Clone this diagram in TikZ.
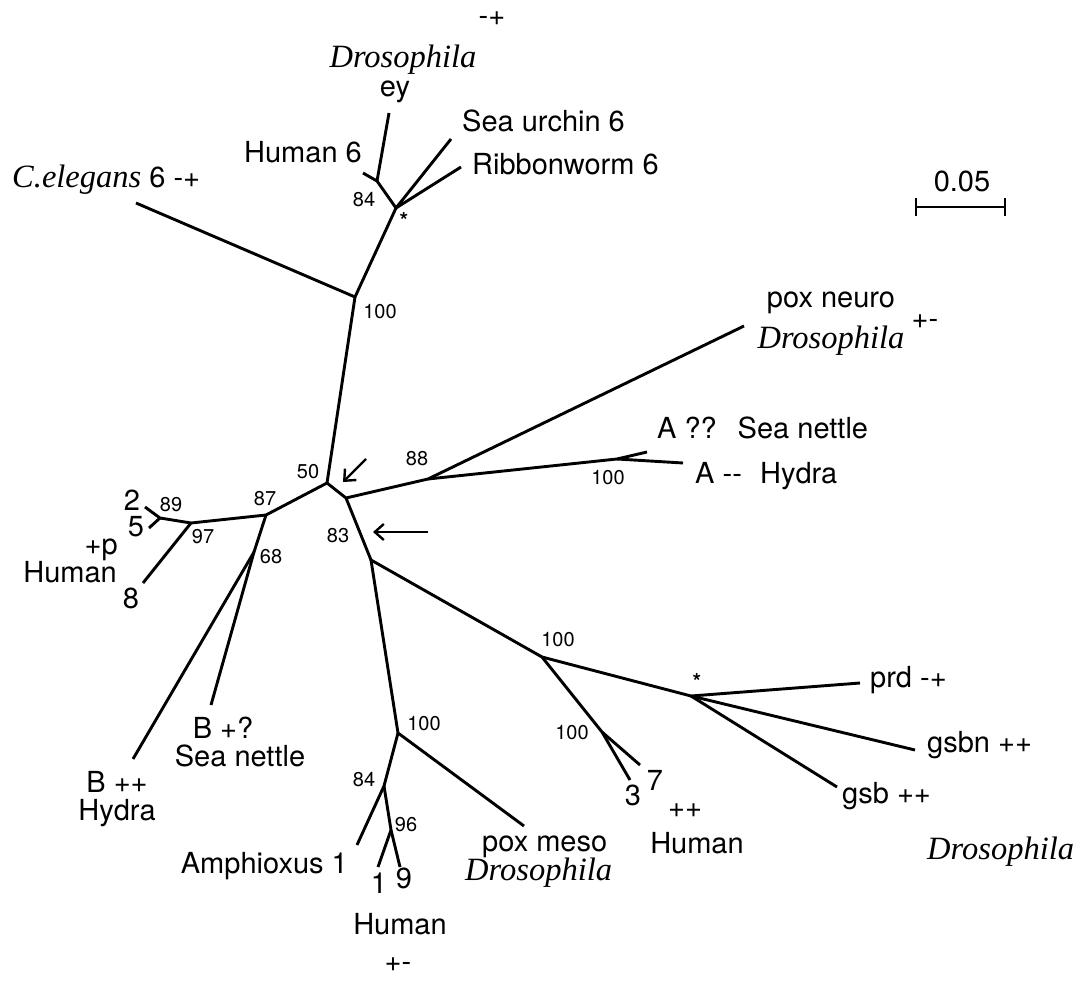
\documentclass[tikz,border=0pt]{standalone}
\usepackage{fontspec}
\newfontfamily\labfont{TeX Gyre Heros}
\newfontfamily\itfont{Liberation Serif}
\usetikzlibrary{arrows.meta}
\begin{document}
\begin{tikzpicture}[x=1pt,y=-1pt,
  br/.style={line width=2.9pt, line join=round},
  lab/.style={font=\labfont\fontsize{29}{25}\selectfont, inner sep=0pt},
  num/.style={font=\labfont\fontsize{20}{20}\selectfont, inner sep=0pt},
  starm/.style={font=\labfont\bfseries\fontsize{22}{22}\selectfont, inner sep=0pt},
  ital/.style={font=\itfont\itshape\fontsize{32.5}{30}\selectfont, inner sep=0pt},
  arr/.style={line width=2.4pt, -{Straight Barb[length=9pt,width=16pt,line width=2.4pt]}}]
\useasboundingbox (0,0) rectangle (1086,984);
% ---- junctions and tips
\coordinate (N50) at (327,483);
\coordinate (N100u) at (355,297);
\coordinate (Cel) at (136,203);
\coordinate (Nstar) at (396,208);
\coordinate (N84t) at (377,181);
\coordinate (H6) at (363,173);
\coordinate (ey) at (389,113);
\coordinate (SU) at (451,139);
\coordinate (RW) at (461,167);
\coordinate (N87) at (266,515);
\coordinate (N97) at (191,523);
\coordinate (N89) at (160,518);
\coordinate (t2) at (145,507);
\coordinate (t5) at (149,528);
\coordinate (t8) at (143,583);
\coordinate (N68) at (254,552);
\coordinate (BSN) at (211,705);
\coordinate (BHy) at (133,759);
\coordinate (N83a) at (346,498);
\coordinate (N88) at (428,479);
\coordinate (PN) at (744,326);
\coordinate (NA) at (617,459);
\coordinate (ASN) at (647,452);
\coordinate (AHy) at (683,463);
\coordinate (N83b) at (371,560);
\coordinate (NR) at (542,657);
\coordinate (N37) at (602,732);
\coordinate (t3) at (630,780);
\coordinate (t7) at (640,765);
\coordinate (Nst2) at (691,696);
\coordinate (prd) at (860,683);
\coordinate (gsbn) at (915,750);
\coordinate (gsb) at (837,787);
\coordinate (NB) at (398,733);
\coordinate (PM) at (524,826);
\coordinate (N84b) at (384,786);
\coordinate (Am) at (357,845);
\coordinate (N96) at (391,830);
\coordinate (h1) at (378,867);
\coordinate (h9) at (400,867);
% ---- branches
\draw[br] (N50) -- (N100u);
\draw[br] (N100u) -- (Cel);
\draw[br] (N100u) -- (Nstar);
\draw[br] (Nstar) -- (N84t) -- (H6);
\draw[br] (N84t) -- (ey);
\draw[br] (Nstar) -- (SU);
\draw[br] (Nstar) -- (RW);
\draw[br] (N50) -- (N87) -- (N97) -- (N89) -- (t2);
\draw[br] (N89) -- (t5);
\draw[br] (N97) -- (t8);
\draw[br] (N87) -- (N68) -- (BSN);
\draw[br] (N68) -- (BHy);
\draw[br] (N50) -- (N83a) -- (N88) -- (PN);
\draw[br] (N88) -- (NA) -- (ASN);
\draw[br] (NA) -- (AHy);
\draw[br] (N83a) -- (N83b) -- (NR) -- (N37) -- (t3);
\draw[br] (N37) -- (t7);
\draw[br] (NR) -- (Nst2) -- (prd);
\draw[br] (Nst2) -- (gsbn);
\draw[br] (Nst2) -- (gsb);
\draw[br] (N83b) -- (NB) -- (PM);
\draw[br] (NB) -- (N84b) -- (Am);
\draw[br] (N84b) -- (N96) -- (h1);
\draw[br] (N96) -- (h9);
% ---- arrows
\coordinate (a1s) at (366,459);
\coordinate (a1e) at (343,482);
\coordinate (a2s) at (428,532);
\coordinate (a2e) at (373,532);
\draw[arr] (a1s) -- (a1e);
\draw[arr] (a2s) -- (a2e);
% ---- scale bar
\coordinate (sbL) at (916,207);
\coordinate (sbR) at (1005,207);
\draw[line width=2.4pt] (sbL) -- (sbR);
\draw[line width=2.4pt] ([yshift=-9pt]sbL) -- ([yshift=9pt]sbL);
\draw[line width=2.4pt] ([yshift=-9pt]sbR) -- ([yshift=9pt]sbR);
\node[lab, anchor=base] (scale) at (962,192) {0.05};
% ---- labels top
\node[lab, anchor=center] (topsign) at (492,19) {-+};
\node[ital, anchor=base] (droey) at (403,68) {Drosophila};
\node[lab, anchor=base] (eylab) at (395,97) {ey};
\node[lab, anchor=base] (h6lab) at (303,163) {Human 6};
\node[lab, anchor=base west] (sulab) at (462,132) {Sea urchin 6};
\node[lab, anchor=base west] (rwlab) at (472,175) {Ribbonworm 6};
\node[lab, anchor=base west] (cellab) at (12,188) {{\itfont\itshape\fontsize{32.5}{30}\selectfont C.elegans} 6 -+};
\node[num, anchor=base] (b84t) at (364,207) {84};
\node[starm, anchor=center] (st1) at (404,220) {*};
\node[num, anchor=base] (b100u) at (380,318) {100};
% ---- right upper
\node[lab, anchor=base] (pnlab) at (831,307) {pox neuro};
\node[ital, anchor=base] (pndro) at (831,348) {Drosophila};
\node[lab, anchor=center] (pnsign) at (925,322) {+-};
\node[num, anchor=center] (b88) at (417,459) {88};
\node[num, anchor=center] (b50) at (308,472) {50};
\node[num, anchor=center] (b83) at (338,536) {83};
\node[lab, anchor=base west] (asn) at (657,438) {A ??\hspace{0.35em} Sea nettle};
\node[lab, anchor=base west] (ahy) at (695,483) {A {-}{-}\hspace{0.35em} Hydra};
\node[num, anchor=center] (b100a) at (608,478) {100};
% ---- left cluster
\node[lab, anchor=center] (l2) at (132,500) {2};
\node[lab, anchor=center] (l5) at (136,527) {5};
\node[lab, anchor=center] (l8) at (131,598) {8};
\node[num, anchor=center] (b89) at (171,505) {89};
\node[num, anchor=center] (b97) at (203,537) {97};
\node[num, anchor=center] (b87) at (265,499) {87};
\node[num, anchor=center] (b68) at (271,557) {68};
\node[lab, anchor=base east] (plab) at (118,554) {+p};
\node[lab, anchor=base east] (hlab) at (117,582) {Human};
\node[lab, anchor=base] (bpp) at (117,792) {B ++};
\node[lab, anchor=base] (bhy) at (117,820) {Hydra};
\node[lab, anchor=base] (bpq) at (223,738) {B +?};
\node[lab, anchor=base] (bsn) at (240,766) {Sea nettle};
% ---- bottom cluster
\node[num, anchor=center] (b100b) at (424,724) {100};
\node[num, anchor=center] (b84b) at (364,780) {84};
\node[num, anchor=center] (b96) at (406,825) {96};
\node[lab, anchor=base east] (amlab) at (348,873) {Amphioxus 1};
\node[lab, anchor=base] (l1) at (379,893) {1};
\node[lab, anchor=base] (l9) at (404,888) {9};
\node[lab, anchor=base] (hbot) at (400,934) {Human};
\node[lab, anchor=center] (botsign) at (398,965) {+-};
\node[lab, anchor=base west] (pmlab) at (482,851) {pox meso};
\node[ital, anchor=base west] (pmdro) at (465,880) {Drosophila};
% ---- right lower cluster
\node[num, anchor=center] (b100r) at (558,640) {100};
\node[num, anchor=center] (b100c) at (572,733) {100};
\node[lab, anchor=base] (l3) at (633,805) {3};
\node[lab, anchor=base] (l7) at (655,790) {7};
\node[lab, anchor=center] (rpp) at (685,811) {++};
\node[lab, anchor=base] (hright) at (697,853) {Human};
\node[starm, anchor=center] (st2) at (697,681) {*};
\node[lab, anchor=base west] (prdlab) at (870,687) {prd -+};
\node[lab, anchor=base west] (gsbnlab) at (927,752) {gsbn ++};
\node[lab, anchor=base west] (gsblab) at (842,803) {gsb ++};
\node[ital, anchor=base west] (rdro) at (927,859) {Drosophila};
\end{tikzpicture}
\end{document}
